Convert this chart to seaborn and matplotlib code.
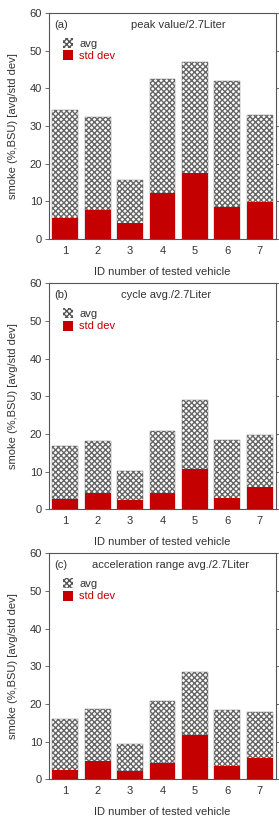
import matplotlib
matplotlib.use("Agg")
import matplotlib.pyplot as plt
import seaborn as sns
import pandas as pd
from matplotlib.patches import Patch

ids = ["1", "2", "3", "4", "5", "6", "7"]
peak_avg = [34.2, 32.3, 15.6, 42.5, 47.0, 41.9, 32.9]
peak_std = [5.5, 7.7, 4.2, 12.1, 17.4, 8.6, 9.9]
cycle_avg = [16.8, 18.1, 10.1, 20.7, 29.0, 18.5, 19.6]
cycle_std = [2.8, 4.2, 2.5, 4.2, 10.7, 2.9, 5.8]
accel_avg = [16.0, 18.6, 9.4, 20.8, 28.5, 18.4, 18.0]
accel_std = [2.5, 4.9, 2.1, 4.3, 11.8, 3.4, 5.6]
panel_tags = ["(a)", "(b)", "(c)"]
panel_titles = ["peak value/2.7Liter", "cycle avg./2.7Liter", "acceleration range avg./2.7Liter"]
yticks = [0, 10, 20, 30, 40, 50, 60]

sns.set_theme(style="ticks")
plt.rcParams['font.family'] = ['Liberation Sans', 'DejaVu Sans']
plt.rcParams['hatch.linewidth'] = 1.0
plt.rcParams['hatch.color'] = '#2a2a2a'

TXT = '#333333'
RED = '#c40000'
FS = 8.0

W, H = 279, 822
fig = plt.figure(figsize=(W / 100, H / 100), dpi=100)

panels = [(peak_avg, peak_std, 239), (cycle_avg, cycle_std, 509.3), (accel_avg, accel_std, 779.3)]
title_x = [0.57, 0.515, 0.537]

for i, (avg, std, ybot) in enumerate(panels):
    ax = fig.add_axes([49 / W, 1 - ybot / H, 227 / W, 226 / H])
    df = pd.DataFrame({"id": ids, "avg": avg, "std": std})
    sns.barplot(data=df, x="id", y="avg", ax=ax, color="white", edgecolor="#666666",
                linewidth=0.3, hatch="xxxxxx", saturation=1, width=0.8)
    sns.barplot(data=df, x="id", y="std", ax=ax, color=RED, edgecolor="none",
                linewidth=0, saturation=1, width=0.8)
    ax.set_xlim(-0.5, 6.5)
    ax.set_ylim(0, 60)
    ax.set_yticks(yticks)
    ax.set_xlabel("")
    ax.set_ylabel("")
    for s in ax.spines.values():
        s.set_visible(True)
        s.set_color('#555555')
        s.set_linewidth(0.8)
    ax.tick_params(axis='y', which='both', direction='out', length=3, width=0.6,
                   colors='#555555', labelcolor=TXT, labelsize=FS, pad=2, right=True)
    ax.tick_params(axis='x', length=0, labelcolor=TXT, labelsize=FS, pad=5)
    ax.text(-36 / 227, 0.5, "smoke (%,BSU) [avg/std dev]", transform=ax.transAxes,
            rotation=90, ha='center', va='center', fontsize=FS, color=TXT)
    ax.text(0.5, -33 / 226, "ID number of tested vehicle", transform=ax.transAxes,
            ha='center', va='center', fontsize=FS, color=TXT)
    ax.text(0.022, 0.947, panel_tags[i], transform=ax.transAxes, ha='left', va='center',
            fontsize=FS, color=TXT)
    ax.text(title_x[i], 0.947, panel_titles[i], transform=ax.transAxes, ha='center',
            va='center', fontsize=FS, color=TXT)
    handles = [Patch(facecolor='white', edgecolor='#555555', hatch='xxxxxx', linewidth=0),
               Patch(facecolor=RED, edgecolor='none')]
    leg = ax.legend(handles, ["avg", "std dev"], loc='upper left', bbox_to_anchor=(0.06, 0.89),
                    frameon=False, fontsize=FS, handlelength=0.9, handleheight=1.0,
                    handletextpad=0.6, labelspacing=0.15, borderaxespad=0, borderpad=0)
    leg.get_texts()[0].set_color(TXT)
    leg.get_texts()[1].set_color(RED)

fig.savefig("out.png", dpi=100)
